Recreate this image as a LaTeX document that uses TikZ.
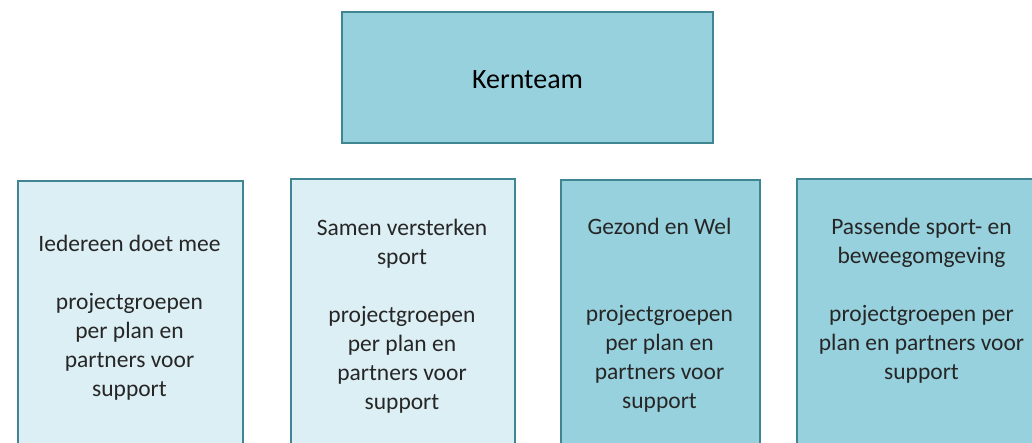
\documentclass[tikz,border=0pt]{standalone}
\usepackage{fontspec}
\setmainfont{Carlito}
\definecolor{bordc}{HTML}{3F8592}
\definecolor{darkfill}{HTML}{97D1DD}
\definecolor{lightfill}{HTML}{DCEFF4}
\definecolor{txtc}{HTML}{262626}
\begin{document}
\begin{tikzpicture}[x=1pt,y=-1pt,
  boxstyle/.style={draw=bordc, line width=2.2pt, rectangle, inner sep=0pt},
  lightbox/.style={boxstyle, fill=lightfill},
  darkbox/.style={boxstyle, fill=darkfill},
  labelstyle/.style={anchor=base, inner sep=0pt, text=txtc, font=\fontsize{23.5}{29}\selectfont}]
\useasboundingbox (0,0) rectangle (1032,442);
\clip (0,0) rectangle (1032,442);
\node[darkbox, minimum width=371pt, minimum height=131pt] (kern) at (527.5,77.5) {};
\node[anchor=base, inner sep=0pt, text=black, font=\fontsize{28}{34}\selectfont] (kerntext) at (527.5,88) {Kernteam};

\node[lightbox, minimum width=225pt, minimum height=300pt, anchor=north west] (b1) at (17,180) {};
\node[lightbox, minimum width=224pt, minimum height=300pt, anchor=north west] (b2) at (290,178) {};
\node[darkbox, minimum width=199pt, minimum height=300pt, anchor=north west] (b3) at (560,179) {};
\node[darkbox, minimum width=260pt, minimum height=300pt, anchor=north west] (b4) at (796,178) {};

\node[labelstyle] (t1) at (129.5,251) {\begin{tabular}[t]{@{}c@{}}Iedereen doet mee\\ \\ projectgroepen\\ per plan en\\ partners voor\\ support\end{tabular}};
\node[labelstyle] (t2) at (402,235) {\begin{tabular}[t]{@{}c@{}}Samen versterken\\ sport\\ \\ projectgroepen\\ per plan en\\ partners voor\\ support\end{tabular}};
\node[labelstyle] (t3) at (659.5,234) {\begin{tabular}[t]{@{}c@{}}Gezond en Wel\\ \\ \\ projectgroepen\\ per plan en\\ partners voor\\ support\end{tabular}};
\node[labelstyle] (t4) at (921.5,234) {\begin{tabular}[t]{@{}c@{}}Passende sport- en\\ beweegomgeving\\ \\ projectgroepen per\\ plan en partners voor\\ support\end{tabular}};
\end{tikzpicture}
\end{document}
